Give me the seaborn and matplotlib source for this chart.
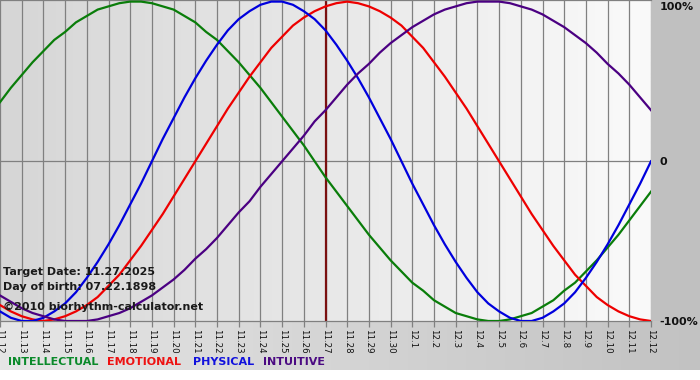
import numpy as np
import pandas as pd
import matplotlib
matplotlib.use("Agg")
import matplotlib.pyplot as plt
from matplotlib.colors import LinearSegmentedColormap
import seaborn as sns

# ---- data ----
dates = ["11.12", "11.13", "11.14", "11.15", "11.16", "11.17", "11.18", "11.19",
         "11.20", "11.21", "11.22", "11.23", "11.24", "11.25", "11.26", "11.27",
         "11.28", "11.29", "11.30", "12.1", "12.2", "12.3", "12.4", "12.5",
         "12.6", "12.7", "12.8", "12.9", "12.10", "12.11", "12.12"]

# values read every half day, from 11.12 to 12.12
intellectual = [0.37, 0.46, 0.54, 0.62, 0.69, 0.76, 0.81, 0.87, 0.91, 0.95,
                0.97, 0.99, 1.00, 1.00, 0.99, 0.97, 0.95, 0.91, 0.87, 0.81,
                0.76, 0.69, 0.62, 0.54, 0.46, 0.37, 0.28, 0.19, 0.10, 0.00,
                -0.10, -0.19, -0.28, -0.37, -0.46, -0.54, -0.62, -0.69, -0.76, -0.81,
                -0.87, -0.91, -0.95, -0.97, -0.99, -1.00, -1.00, -0.99, -0.97, -0.95,
                -0.91, -0.87, -0.81, -0.76, -0.69, -0.62, -0.54, -0.46, -0.37, -0.28,
                -0.19]
emotional = [-0.90, -0.94, -0.97, -0.99, -1.00, -0.99, -0.97, -0.94, -0.90, -0.85,
             -0.78, -0.71, -0.62, -0.53, -0.43, -0.33, -0.22, -0.11, 0.00, 0.11,
             0.22, 0.33, 0.43, 0.53, 0.62, 0.71, 0.78, 0.85, 0.90, 0.94,
             0.97, 0.99, 1.00, 0.99, 0.97, 0.94, 0.90, 0.85, 0.78, 0.71,
             0.62, 0.53, 0.43, 0.33, 0.22, 0.11, 0.00, -0.11, -0.22, -0.33,
             -0.43, -0.53, -0.62, -0.71, -0.78, -0.85, -0.90, -0.94, -0.97, -0.99,
             -1.00]
physical = [-0.94, -0.98, -1.00, -1.00, -0.98, -0.94, -0.89, -0.82, -0.73, -0.63,
            -0.52, -0.40, -0.27, -0.14, 0.00, 0.14, 0.27, 0.40, 0.52, 0.63,
            0.73, 0.82, 0.89, 0.94, 0.98, 1.00, 1.00, 0.98, 0.94, 0.89,
            0.82, 0.73, 0.63, 0.52, 0.40, 0.27, 0.14, 0.00, -0.14, -0.27,
            -0.40, -0.52, -0.63, -0.73, -0.82, -0.89, -0.94, -0.98, -1.00, -1.00,
            -0.98, -0.94, -0.89, -0.82, -0.73, -0.63, -0.52, -0.40, -0.27, -0.14,
            0.00]
intuitive = [-0.84, -0.88, -0.92, -0.95, -0.97, -0.99, -1.00, -1.00, -1.00, -0.99,
             -0.97, -0.95, -0.92, -0.88, -0.84, -0.79, -0.74, -0.68, -0.61, -0.55,
             -0.48, -0.40, -0.32, -0.25, -0.16, -0.08, 0.00, 0.08, 0.16, 0.25,
             0.32, 0.40, 0.48, 0.55, 0.61, 0.68, 0.74, 0.79, 0.84, 0.88,
             0.92, 0.95, 0.97, 0.99, 1.00, 1.00, 1.00, 0.99, 0.97, 0.95,
             0.92, 0.88, 0.84, 0.79, 0.74, 0.68, 0.61, 0.55, 0.48, 0.40,
             0.32]
samples_per_day = 2

series_names = ["INTELLECTUAL", "EMOTIONAL", "PHYSICAL", "INTUITIVE"]
series_colors = ["#0a7d0a", "#ee0000", "#0000dd", "#4b0082"]
legend_colors = ["#0a8a2a", "#ee1111", "#1111dd", "#4b0a82"]
y_labels = ["100%", "0", "-100%"]
target_date = "11.27"
info_lines = ["Target Date: 11.27.2025", "Day of birth: 07.22.1898",
              "\u00a92010 biorhythm-calculator.net"]

# ---- build long table ----
frames = []
for name, vals in zip(series_names, [intellectual, emotional, physical, intuitive]):
    pos = np.arange(len(vals)) / samples_per_day
    frames.append(pd.DataFrame({"day": pos, "value": vals, "series": name}))
df = pd.concat(frames, ignore_index=True)
day_ticks = list(range(len(dates)))

# ---- figure ----
W, H = 700, 380
fig = plt.figure(figsize=(W / 100, H / 100), dpi=100)
fig.patch.set_facecolor("#c0c0c0")

plot_bottom_px = 321
plot_right_px = 651

# bottom gradient strip
bg = fig.add_axes([0, 10 / H, 1, (H - plot_bottom_px - 10) / H])
bg.set_axis_off()
cm_b = LinearSegmentedColormap.from_list("b", ["#e6e6e6", "#c2c2c2"])
bg.imshow(np.linspace(0, 1, 256)[None, :], aspect="auto", cmap=cm_b,
          extent=[0, 1, 0, 1])
bg.set_zorder(-5)
fig.patches.append(plt.Rectangle((0, 0), 1, 10 / H, transform=fig.transFigure,
                                 facecolor="white", edgecolor="none", zorder=-10))

ax = fig.add_axes([0, 1 - plot_bottom_px / H, plot_right_px / W, plot_bottom_px / H])
cm_p = LinearSegmentedColormap.from_list("p", ["#d6d6d6", "#fafafa"])
ax.imshow(np.linspace(0, 1, 256)[None, :], aspect="auto", cmap=cm_p,
          extent=[0, len(dates) - 1, -1.0, 1.01], zorder=0)

ax.set_xticks(day_ticks)
ax.grid(axis="x", color="#808080", lw=0.9, zorder=1)
ax.axhline(0, color="#808080", lw=0.9, zorder=1)

t_idx = dates.index(target_date)
ax.axvline(t_idx, color="#7a1010", lw=1.6, zorder=2)

sns.lineplot(data=df, x="day", y="value", hue="series", hue_order=series_names,
             palette=dict(zip(series_names, series_colors)), estimator=None,
             linewidth=1.6, legend=False, ax=ax, zorder=3)

ax.set_xlim(0, len(dates) - 1)
ax.set_ylim(-1.0, 1.01)
ax.set_xlabel("")
ax.set_ylabel("")
ax.set_xticklabels(dates)
ax.tick_params(axis="x", labelrotation=-90, labelsize=6.2, colors="#808080",
               labelcolor="#111111", length=4, width=0.9, pad=2)
for sp in ["left", "right"]:
    ax.spines[sp].set_visible(False)
for sp in ["top", "bottom"]:
    ax.spines[sp].set_color("#808080")
    ax.spines[sp].set_linewidth(0.9)

ax.yaxis.tick_right()
ax.set_yticks([1.0, 0.0, -1.0])
ax.set_yticklabels(y_labels)
ax.tick_params(axis="y", length=0, pad=6, labelsize=8, labelcolor="#111111")
for lab in ax.get_yticklabels():
    lab.set_fontweight("bold")
ax.get_yticklabels()[0].set_va("top")

# info text
for txt, ypx in zip(info_lines, [272, 287, 307]):
    fig.text(3 / W, 1 - ypx / H, txt, ha="left", va="center", fontsize=8,
             fontweight="bold", color="#1a1a1a", zorder=10)

# legend texts
for name, col, xpx in zip(series_names, legend_colors, [8, 107, 193, 263]):
    fig.text(xpx / W, 1 - 362 / H, name, ha="left", va="center", fontsize=8,
             fontweight="bold", color=col)

fig.savefig("out.png", dpi=100, facecolor=fig.get_facecolor())
